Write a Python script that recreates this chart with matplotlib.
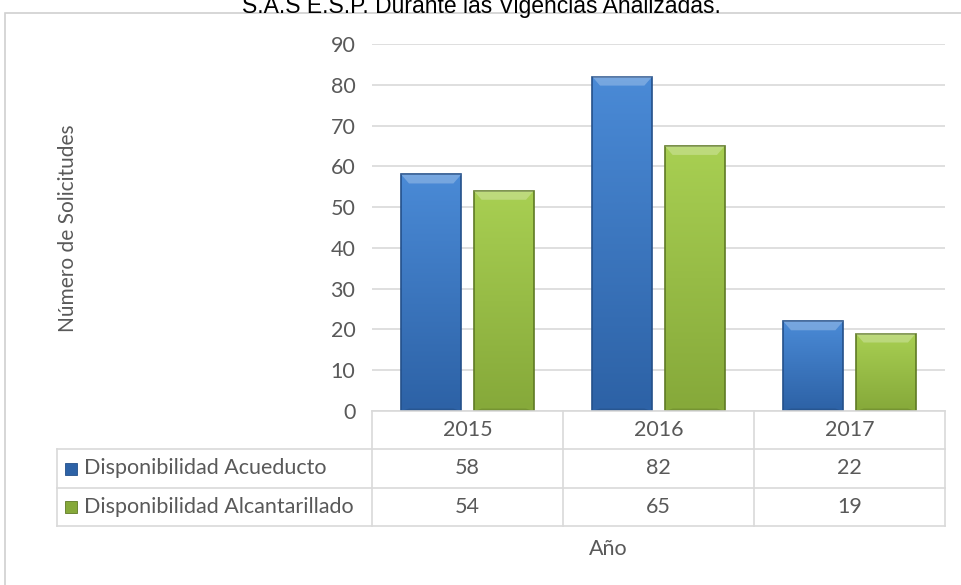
import numpy as np
import matplotlib.pyplot as plt
from matplotlib.patches import Rectangle, Polygon
from matplotlib.colors import LinearSegmentedColormap

years = ['2015', '2016', '2017']
series = ['Disponibilidad Acueducto', 'Disponibilidad Alcantarillado']
acueducto = [58, 82, 22]
alcantarillado = [54, 65, 19]
yticks = [0, 10, 20, 30, 40, 50, 60, 70, 80, 90]

W, H = 961, 585
txt = '#595959'
grid = '#d9d9d9'
font = ['Lato', 'DejaVu Sans']
fs = 15.5

# colors: light, dark, edge
styles = [('#4a8ad6', '#2d62a6', '#24508a'),
          ('#a8cf52', '#86a93a', '#5f7a25')]

fig = plt.figure(figsize=(W / 100, H / 100), dpi=100)
plt.rcParams['font.family'] = font


def px(x0, y0, x1, y1):
    # pixel box (top-left origin) -> figure fraction rect
    return [x0 / W, 1 - y1 / H, (x1 - x0) / W, (y1 - y0) / H]


# outer chart frame
fig.add_artist(Rectangle((5 / W, -0.05), 1.1, 1 - 13 / H + 0.05, transform=fig.transFigure,
                         fill=False, edgecolor='#d0d0d0', lw=1.2))

fig.text(481 / W, 1 - 13 / H, 'S.A.S E.S.P. Durante las Vigencias Analizadas.',
         ha='center', va='baseline', fontsize=16.5, family='Liberation Sans', color='black')

ax = fig.add_axes(px(372, 44, 945, 411))
ax.set_xlim(0, 3)
ax.set_ylim(0, 90)
for s in ax.spines.values():
    s.set_visible(False)
ax.set_xticks([])
ax.set_yticks(yticks)
ax.tick_params(axis='y', length=0, pad=12, labelsize=fs, labelcolor=txt)
ax.grid(axis='y', color=grid, lw=1.2)
ax.set_axisbelow(True)

x = np.arange(len(years)) + 0.5
bw = 0.314
off = 0.19
for vals, sign, (lc, dc, ec) in [(acueducto, -1, styles[0]), (alcantarillado, 1, styles[1])]:
    cmap = LinearSegmentedColormap.from_list('g', [dc, lc])
    bars = ax.bar(x + sign * off, vals, bw, color='none', edgecolor=ec, lw=1.2, zorder=3)
    for b in bars:
        bx, by, bwid, bh = b.get_x(), b.get_y(), b.get_width(), b.get_height()
        grad = np.linspace(0, 1, 50).reshape(-1, 1)
        im = ax.imshow(grad, cmap=cmap, extent=(bx, bx + bwid, by, by + bh),
                       aspect='auto', origin='lower', zorder=2, interpolation='bilinear')
        im.set_clip_path(b)
        # bevel on top
        bev_h = 2.2
        bev_w = bwid * 0.13
        ax.add_patch(Polygon([(bx, bh), (bx + bwid, bh), (bx + bwid - bev_w, bh - bev_h),
                              (bx + bev_w, bh - bev_h)], closed=True,
                             facecolor='white', alpha=0.25, lw=0, zorder=3))
        ax.add_patch(Polygon([(bx, 0), (bx + bwid, 0), (bx + bwid - bev_w, 0.6),
                              (bx + bev_w, 0.6)], closed=True,
                             facecolor='black', alpha=0.12, lw=0, zorder=3))

# data table below the plot
lab_w = (372 - 57) / 191
tx = fig.add_axes(px(57, 411, 945, 526))
tx.set_xlim(-lab_w, 3)
tx.set_ylim(3, 0)
tx.axis('off')
lk = dict(color=grid, lw=1.2, clip_on=False)
tx.plot([0, 3], [0, 0], **lk)
for r in [1, 2, 3]:
    tx.plot([-lab_w, 3], [r, r], **lk)
for c in [0, 1, 2, 3]:
    tx.plot([c, c], [0, 3], **lk)
tx.plot([-lab_w, -lab_w], [1, 3], **lk)
for i, yr in enumerate(years):
    tx.text(i + 0.5, 0.5, yr, ha='center', va='center', fontsize=fs, color=txt)
for r, (name, vals, st) in enumerate([(series[0], acueducto, styles[0]),
                                      (series[1], alcantarillado, styles[1])]):
    yy = r + 1.5
    tx.plot(-lab_w + 0.075, yy, marker='s', ms=8, color=st[1], mec=st[2], mew=0.6)
    tx.text(-lab_w + 0.14, yy, name, ha='left', va='center', fontsize=fs, color=txt)
    for i, v in enumerate(vals):
        tx.text(i + 0.5, yy, str(v), ha='center', va='center', fontsize=fs, color=txt)

fig.text(608 / W, 1 - 549 / H, 'Año', ha='center', va='center', fontsize=fs, color=txt)
fig.text(68 / W, 1 - 228 / H, 'Número de Solicitudes', ha='center', va='center',
         rotation=90, fontsize=15, color=txt)

fig.savefig('out.png', dpi=100)
